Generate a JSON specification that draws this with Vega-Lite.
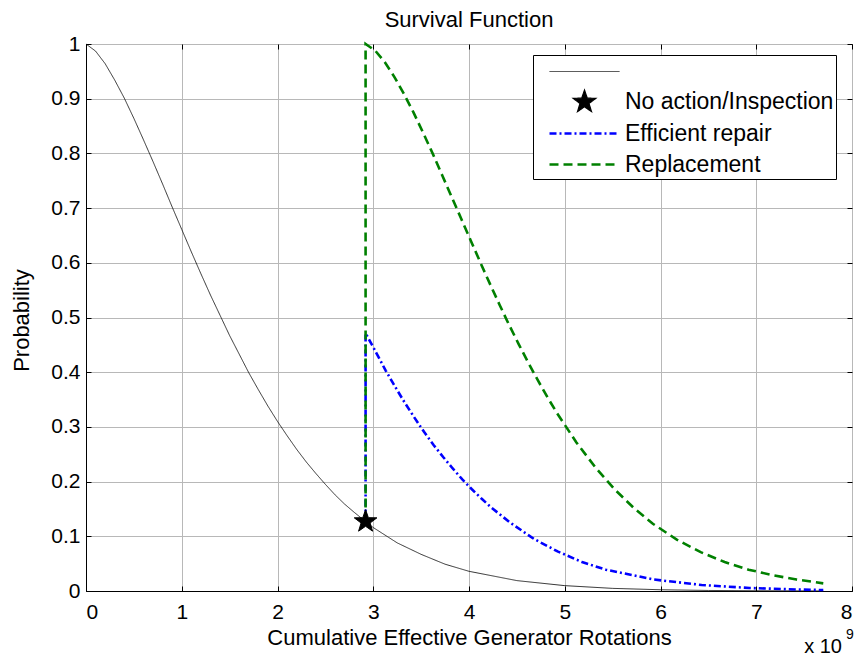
{
  "$schema": "https://vega.github.io/schema/vega-lite/v6.json",
  "width": 766,
  "height": 547,
  "autosize": {"type": "none"},
  "padding": {"left": 86, "top": 44, "right": 10, "bottom": 65},
  "background": "white",
  "title": {"text": "Survival Function", "font": "Liberation Sans", "fontSize": 22, "fontWeight": "normal", "color": "black", "offset": 4, "baseline": "bottom", "dy": 25},
  "config": {
    "font": "Liberation Sans",
    "view": {"stroke": "black", "strokeWidth": 1},
    "axis": {
      "labelFont": "Liberation Sans", "labelFontSize": 21, "labelColor": "black",
      "titleFont": "Liberation Sans", "titleFontSize": 22, "titleFontWeight": "normal", "titleColor": "black",
      "domainColor": "black", "tickColor": "black", "tickSize": -5, "gridColor": "#b8b8b8", "gridOpacity": 1, "gridWidth": 1
    },
    "legend": {
      "orient": "none", "legendX": 447, "legendY": 11, "padding": 2,
      "labelFont": "Liberation Sans", "labelFontSize": 23, "labelColor": "black", "labelLimit": 400,
      "strokeColor": "black", "fillColor": "white", "symbolSize": 784, "symbolOffset": 34,
      "labelOffset": 25, "rowPadding": 3, "symbolFillColor": "black"
    }
  },
  "data": {"values": [
    {"series": "S", "i": 0, "x": 0.0, "y": 1.0},
    {"series": "S", "i": 1, "x": 0.1, "y": 0.987},
    {"series": "S", "i": 2, "x": 0.2, "y": 0.964},
    {"series": "S", "i": 3, "x": 0.3, "y": 0.934},
    {"series": "S", "i": 4, "x": 0.4, "y": 0.901},
    {"series": "S", "i": 5, "x": 0.5, "y": 0.864},
    {"series": "S", "i": 6, "x": 0.6, "y": 0.825},
    {"series": "S", "i": 7, "x": 0.7, "y": 0.785},
    {"series": "S", "i": 8, "x": 0.8, "y": 0.744},
    {"series": "S", "i": 9, "x": 0.9, "y": 0.702},
    {"series": "S", "i": 10, "x": 1.0, "y": 0.661},
    {"series": "S", "i": 11, "x": 1.1, "y": 0.620},
    {"series": "S", "i": 12, "x": 1.2, "y": 0.580},
    {"series": "S", "i": 13, "x": 1.3, "y": 0.541},
    {"series": "S", "i": 14, "x": 1.4, "y": 0.504},
    {"series": "S", "i": 15, "x": 1.5, "y": 0.467},
    {"series": "S", "i": 16, "x": 1.6, "y": 0.433},
    {"series": "S", "i": 17, "x": 1.7, "y": 0.399},
    {"series": "S", "i": 18, "x": 1.8, "y": 0.368},
    {"series": "S", "i": 19, "x": 1.9, "y": 0.338},
    {"series": "S", "i": 20, "x": 2.0, "y": 0.310},
    {"series": "S", "i": 21, "x": 2.1, "y": 0.284},
    {"series": "S", "i": 22, "x": 2.2, "y": 0.259},
    {"series": "S", "i": 23, "x": 2.3, "y": 0.236},
    {"series": "S", "i": 24, "x": 2.4, "y": 0.215},
    {"series": "S", "i": 25, "x": 2.5, "y": 0.195},
    {"series": "S", "i": 26, "x": 2.6, "y": 0.176},
    {"series": "S", "i": 27, "x": 2.7, "y": 0.159},
    {"series": "S", "i": 28, "x": 2.8, "y": 0.144},
    {"series": "S", "i": 29, "x": 2.92, "y": 0.127},
    {"series": "S", "i": 30, "x": 3.0, "y": 0.116},
    {"series": "S", "i": 31, "x": 3.25, "y": 0.088},
    {"series": "S", "i": 32, "x": 3.5, "y": 0.067},
    {"series": "S", "i": 33, "x": 3.75, "y": 0.049},
    {"series": "S", "i": 34, "x": 4.0, "y": 0.036},
    {"series": "S", "i": 35, "x": 4.5, "y": 0.019},
    {"series": "S", "i": 36, "x": 5.0, "y": 0.0098},
    {"series": "S", "i": 37, "x": 5.5, "y": 0.0048},
    {"series": "S", "i": 38, "x": 6.0, "y": 0.0023},
    {"series": "S", "i": 39, "x": 6.5, "y": 0.001},
    {"series": "S", "i": 40, "x": 7.0, "y": 0.0005},
    {"series": "S", "i": 41, "x": 7.7, "y": 0.0001},
    {"series": "No action/Inspection", "i": 0, "x": 2.92, "y": 0.127},
    {"series": "Efficient repair", "i": 0, "x": 2.92, "y": 0.127},
    {"series": "Efficient repair", "i": 1, "x": 2.92, "y": 0.471},
    {"series": "Efficient repair", "i": 2, "x": 2.93, "y": 0.468},
    {"series": "Efficient repair", "i": 3, "x": 3.03, "y": 0.436},
    {"series": "Efficient repair", "i": 4, "x": 3.13, "y": 0.403},
    {"series": "Efficient repair", "i": 5, "x": 3.23, "y": 0.373},
    {"series": "Efficient repair", "i": 6, "x": 3.33, "y": 0.344},
    {"series": "Efficient repair", "i": 7, "x": 3.43, "y": 0.317},
    {"series": "Efficient repair", "i": 8, "x": 3.53, "y": 0.291},
    {"series": "Efficient repair", "i": 9, "x": 3.63, "y": 0.267},
    {"series": "Efficient repair", "i": 10, "x": 3.73, "y": 0.245},
    {"series": "Efficient repair", "i": 11, "x": 3.83, "y": 0.224},
    {"series": "Efficient repair", "i": 12, "x": 3.93, "y": 0.204},
    {"series": "Efficient repair", "i": 13, "x": 4.03, "y": 0.186},
    {"series": "Efficient repair", "i": 14, "x": 4.13, "y": 0.169},
    {"series": "Efficient repair", "i": 15, "x": 4.23, "y": 0.153},
    {"series": "Efficient repair", "i": 16, "x": 4.43, "y": 0.125},
    {"series": "Efficient repair", "i": 17, "x": 4.68, "y": 0.095},
    {"series": "Efficient repair", "i": 18, "x": 4.93, "y": 0.072},
    {"series": "Efficient repair", "i": 19, "x": 5.18, "y": 0.053},
    {"series": "Efficient repair", "i": 20, "x": 5.43, "y": 0.039},
    {"series": "Efficient repair", "i": 21, "x": 5.93, "y": 0.021},
    {"series": "Efficient repair", "i": 22, "x": 6.43, "y": 0.011},
    {"series": "Efficient repair", "i": 23, "x": 6.93, "y": 0.0055},
    {"series": "Efficient repair", "i": 24, "x": 7.43, "y": 0.0027},
    {"series": "Efficient repair", "i": 25, "x": 7.7, "y": 0.0018},
    {"series": "Replacement", "i": 0, "x": 2.92, "y": 0.127},
    {"series": "Replacement", "i": 1, "x": 2.92, "y": 1.0},
    {"series": "Replacement", "i": 2, "x": 3.02, "y": 0.988},
    {"series": "Replacement", "i": 3, "x": 3.12, "y": 0.967},
    {"series": "Replacement", "i": 4, "x": 3.22, "y": 0.940},
    {"series": "Replacement", "i": 5, "x": 3.32, "y": 0.909},
    {"series": "Replacement", "i": 6, "x": 3.42, "y": 0.875},
    {"series": "Replacement", "i": 7, "x": 3.52, "y": 0.838},
    {"series": "Replacement", "i": 8, "x": 3.62, "y": 0.800},
    {"series": "Replacement", "i": 9, "x": 3.72, "y": 0.760},
    {"series": "Replacement", "i": 10, "x": 3.82, "y": 0.720},
    {"series": "Replacement", "i": 11, "x": 3.92, "y": 0.680},
    {"series": "Replacement", "i": 12, "x": 4.02, "y": 0.640},
    {"series": "Replacement", "i": 13, "x": 4.12, "y": 0.600},
    {"series": "Replacement", "i": 14, "x": 4.22, "y": 0.561},
    {"series": "Replacement", "i": 15, "x": 4.32, "y": 0.523},
    {"series": "Replacement", "i": 16, "x": 4.42, "y": 0.486},
    {"series": "Replacement", "i": 17, "x": 4.52, "y": 0.451},
    {"series": "Replacement", "i": 18, "x": 4.62, "y": 0.417},
    {"series": "Replacement", "i": 19, "x": 4.72, "y": 0.385},
    {"series": "Replacement", "i": 20, "x": 4.82, "y": 0.354},
    {"series": "Replacement", "i": 21, "x": 4.92, "y": 0.325},
    {"series": "Replacement", "i": 22, "x": 5.12, "y": 0.272},
    {"series": "Replacement", "i": 23, "x": 5.32, "y": 0.226},
    {"series": "Replacement", "i": 24, "x": 5.52, "y": 0.186},
    {"series": "Replacement", "i": 25, "x": 5.72, "y": 0.152},
    {"series": "Replacement", "i": 26, "x": 5.92, "y": 0.123},
    {"series": "Replacement", "i": 27, "x": 6.17, "y": 0.094},
    {"series": "Replacement", "i": 28, "x": 6.42, "y": 0.071},
    {"series": "Replacement", "i": 29, "x": 6.67, "y": 0.053},
    {"series": "Replacement", "i": 30, "x": 6.92, "y": 0.039},
    {"series": "Replacement", "i": 31, "x": 7.17, "y": 0.029},
    {"series": "Replacement", "i": 32, "x": 7.42, "y": 0.021},
    {"series": "Replacement", "i": 33, "x": 7.7, "y": 0.014}
  ]},
  "layer": [
    {
      "transform": [{"filter": "datum.series != 'No action/Inspection'"}],
      "mark": {"type": "line", "strokeCap": "butt"},
      "encoding": {
        "x": {"field": "x", "type": "quantitative", "scale": {"domain": [0, 8], "nice": false},
              "axis": {"title": "Cumulative Effective Generator Rotations", "values": [0,1,2,3,4,5,6,7,8], "grid": true, "labelPadding": 15, "titleY": 53, "titleBaseline": "alphabetic"}},
        "y": {"field": "y", "type": "quantitative", "scale": {"domain": [0, 1], "nice": false},
              "axis": {"title": "Probability", "values": [0,0.1,0.2,0.3,0.4,0.5,0.6,0.7,0.8,0.9,1], "format": "~g", "grid": true, "labelPadding": 11, "titleX": -58, "titleY": 276, "titleBaseline": "alphabetic", "titleAlign": "center", "titleAngle": 270}},
        "order": {"field": "i", "type": "quantitative"},
        "color": {"field": "series", "type": "nominal",
                  "scale": {"domain": ["S", "No action/Inspection", "Efficient repair", "Replacement"], "range": ["#000000", "#000000", "#0000ff", "#008000"]},
                  "legend": {"title": null, "labelExpr": "datum.label == 'S' ? '' : datum.label", "encode": {"symbols": {"update": {"fill": {"value": "black"}}}}}},
        "strokeDash": {"field": "series", "type": "nominal",
                  "scale": {"domain": ["S", "No action/Inspection", "Efficient repair", "Replacement"], "range": [[1, 0], [1, 0], [7, 3, 2, 3], [9, 5]]},
                  "legend": {"title": null, "labelExpr": "datum.label == 'S' ? '' : datum.label"}},
        "strokeWidth": {"field": "series", "type": "ordinal",
                  "scale": {"type": "ordinal", "domain": ["S", "No action/Inspection", "Efficient repair", "Replacement"], "range": [0.8, 1.2, 2.6, 2.6]},
                  "legend": {"title": null, "labelExpr": "datum.label == 'S' ? '' : datum.label"}}
      }
    },
    {
      "transform": [{"filter": "datum.series == 'No action/Inspection'"}],
      "mark": {"type": "point", "filled": true, "size": 784, "opacity": 1, "stroke": "black", "strokeWidth": 1},
      "encoding": {
        "x": {"field": "x", "type": "quantitative", "scale": {"domain": [0, 8], "nice": false},
              "axis": {"orient": "top", "title": null, "labels": false, "values": [0,1,2,3,4,5,6,7,8], "grid": false, "domain": false}},
        "y": {"field": "y", "type": "quantitative", "scale": {"domain": [0, 1], "nice": false},
              "axis": {"orient": "right", "title": null, "labels": false, "values": [0,0.1,0.2,0.3,0.4,0.5,0.6,0.7,0.8,0.9,1], "grid": false, "domain": false}},
        "color": {"field": "series", "type": "nominal",
                  "scale": {"domain": ["S", "No action/Inspection", "Efficient repair", "Replacement"], "range": ["#000000", "#000000", "#0000ff", "#008000"]},
                  "legend": {"title": null, "labelExpr": "datum.label == 'S' ? '' : datum.label", "encode": {"symbols": {"update": {"fill": {"value": "black"}}}}}},
        "shape": {"field": "series", "type": "nominal",
                  "scale": {"domain": ["S", "No action/Inspection", "Efficient repair", "Replacement"],
                            "range": ["M-2.5,0L2.5,0", "M0,-0.85L0.2,-0.275L0.808,-0.263L0.323,0.105L0.5,0.688L0,0.34L-0.5,0.688L-0.323,0.105L-0.808,-0.263L-0.2,-0.275Z", "M-2.5,0L2.5,0", "M-2.5,0L2.5,0"]},
                  "legend": {"title": null, "labelExpr": "datum.label == 'S' ? '' : datum.label"}}
      }
    },
    {
      "data": {"values": [{"label": "x 10"}]},
      "mark": {"type": "text", "align": "right", "baseline": "alphabetic", "fontSize": 20, "font": "Liberation Sans", "color": "black", "dx": -10, "dy": 62},
      "encoding": {
        "x": {"datum": 8, "type": "quantitative", "axis": null},
        "y": {"datum": 0, "type": "quantitative", "axis": null},
        "text": {"field": "label"}
      }
    },
    {
      "data": {"values": [{"label": "9"}]},
      "mark": {"type": "text", "align": "left", "baseline": "alphabetic", "fontSize": 14, "font": "Liberation Sans", "color": "black", "dx": -6, "dy": 48},
      "encoding": {
        "x": {"datum": 8, "type": "quantitative", "axis": null},
        "y": {"datum": 0, "type": "quantitative", "axis": null},
        "text": {"field": "label"}
      }
    }
  ],
  "resolve": {"axis": {"x": "independent", "y": "independent"}}
}
